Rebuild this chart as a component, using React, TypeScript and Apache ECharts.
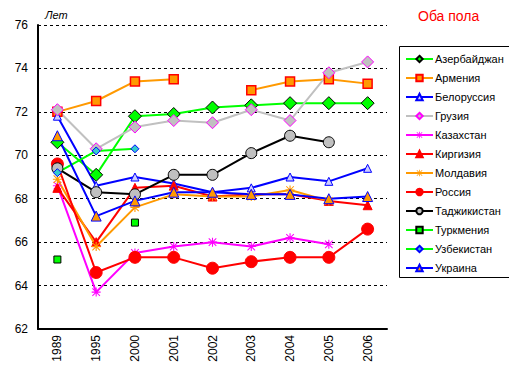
import React, { useEffect, useRef } from "react";
import * as echarts from "echarts";

const years = ["1989", "1995", "2000", "2001", "2002", "2003", "2004", "2005", "2006"];

const azerbaijan = [70.6, 69.1, 71.8, 71.9, 72.2, 72.3, 72.4, 72.4, 72.4];
const armenia = [72.0, 72.5, 73.4, 73.5, null, 73.0, 73.4, 73.5, 73.3];
const belarus = [71.8, 68.6, 69.0, 68.7, 68.3, 68.5, 69.0, 68.8, 69.4];
const georgia = [72.1, 70.3, 71.3, 71.6, 71.5, 72.1, 71.6, 73.8, 74.3];
const kazakhstan = [68.6, 63.7, 65.5, 65.8, 66.0, 65.8, 66.2, 65.9, null];
const kyrgyzstan = [68.5, 66.0, 68.5, 68.6, 68.1, 68.2, 68.2, 67.9, 67.7];
const moldova = [68.9, 65.8, 67.6, 68.2, 68.1, 68.1, 68.4, 67.9, null];
const russia = [69.6, 64.6, 65.3, 65.3, 64.8, 65.1, 65.3, 65.3, 66.6];
const tajikistan = [69.4, 68.3, 68.2, 69.1, 69.1, 70.1, 70.9, 70.6, null];
const turkmenistan = [65.2, null, 66.9, null, null, null, null, null, null];
const uzbekistan = [69.2, 70.2, 70.3, null, null, null, null, null, null];
const ukraine = [70.9, 67.2, 67.9, 68.3, 68.3, 68.2, 68.2, 68.0, 68.1];

const yTicks = [62, 64, 66, 68, 70, 72, 74, 76];

const ASTERISK =
  "path://M4.4,0H5.6V10H4.4Z M1.2,0.4L9.6,8.8L8.8,9.6L0.4,1.2Z M8.8,0.4L9.6,1.2L1.2,9.6L0.4,8.8Z M0,4.4H10V5.6H0Z";

export default function App() {
  const ref = useRef<HTMLDivElement>(null);
  useEffect(() => {
    if (!ref.current) return;
    const chart = echarts.init(ref.current, null, { renderer: "svg" });
    const mk = (
      name: string,
      data: (number | null)[],
      lineColor: string,
      symbol: string,
      size: number,
      fill: string,
      border: string,
      borderW = 1
    ) => ({
      name,
      type: "line",
      data,
      symbol,
      symbolSize: size,
      showSymbol: true,
      connectNulls: false,
      lineStyle: { color: lineColor, width: 2 },
      itemStyle: { color: fill, borderColor: border, borderWidth: borderW },
      emphasis: { disabled: true },
    });
    const series = [
      mk("Азербайджан", azerbaijan, "#00FF00", "diamond", 13, "#00FF00", "#000000"),
      mk("Армения", armenia, "#FF9900", "rect", 9, "#FF9900", "#FF0000", 1.5),
      mk("Белоруссия", belarus, "#0000FF", "triangle", 8, "#CCCCFF", "#0000FF"),
      mk("Грузия", georgia, "#C0C0C0", "diamond", 12, "#C0C0C0", "#FF00FF"),
      mk("Казахстан", kazakhstan, "#FF00FF", ASTERISK, 9, "#FF00FF", "#FF00FF", 0),
      mk("Киргизия", kyrgyzstan, "#FF0000", "triangle", 9, "#FF0000", "#FF0000"),
      mk("Молдавия", moldova, "#FF9900", ASTERISK, 9, "#FF9900", "#FF9900", 0),
      mk("Россия", russia, "#FF0000", "circle", 12, "#FF0000", "#FF0000"),
      mk("Таджикистан", tajikistan, "#000000", "circle", 11, "#C0C0C0", "#000000"),
      mk("Туркмения", turkmenistan, "#00FF00", "rect", 7, "#00FF00", "#000000"),
      mk("Узбекистан", uzbekistan, "#00FF00", "diamond", 8, "#33CCCC", "#0000FF"),
      mk("Украина", ukraine, "#0000FF", "triangle", 10, "#FF9900", "#0000FF"),
    ];
    chart.setOption({
      animation: false,
      backgroundColor: "#FFFFFF",
      grid: { left: 38, top: 25, right: 130, bottom: 49, containLabel: false },
      xAxis: {
        type: "category",
        data: years,
        boundaryGap: true,
        axisLine: { show: true, lineStyle: { color: "#000000", width: 2 } },
        axisTick: { show: false },
        axisLabel: {
          rotate: 90,
          color: "#000000",
          fontSize: 12,
          fontFamily: "Arial, Liberation Sans",
          margin: 6,
        },
        splitLine: { show: false },
      },
      yAxis: {
        type: "value",
        min: yTicks[0],
        max: yTicks[yTicks.length - 1],
        interval: 2,
        axisLine: { show: true, lineStyle: { color: "#000000", width: 2 } },
        axisTick: { show: false },
        axisLabel: {
          color: "#000000",
          fontSize: 12,
          fontFamily: "Arial, Liberation Sans",
          margin: 10,
        },
        splitLine: {
          show: true,
          lineStyle: { color: "#000000", type: [3, 3], width: 1 },
        },
      },
      legend: {
        orient: "vertical",
        left: 405,
        top: 52,
        padding: 0,
        itemWidth: 27,
        itemHeight: 8,
        itemGap: 5,
        textStyle: {
          color: "#000000",
          fontSize: 11,
          lineHeight: 14,
          fontFamily: "Arial, Liberation Sans",
          padding: [0, 0, 0, -3],
        },
        data: series.map((s) => s.name),
      },
      graphic: [
        {
          type: "rect",
          shape: { x: 399.5, y: 46.5, width: 116, height: 231 },
          style: { fill: "none", stroke: "#000000", lineWidth: 1 },
          silent: true,
        },
        {
          type: "text",
          left: 45,
          top: 9,
          style: {
            text: "Лет",
            fill: "#000000",
            font: "italic 11px Arial, Liberation Sans",
          },
        },
        {
          type: "text",
          left: 418,
          top: 9,
          style: {
            text: "Оба пола",
            fill: "#FF0000",
            font: "14px Arial, Liberation Sans",
          },
        },
      ],
      series,
    });
    return () => chart.dispose();
  }, []);
  return <div ref={ref} style={{ width: 517, height: 378, margin: -8 }} />;
}
